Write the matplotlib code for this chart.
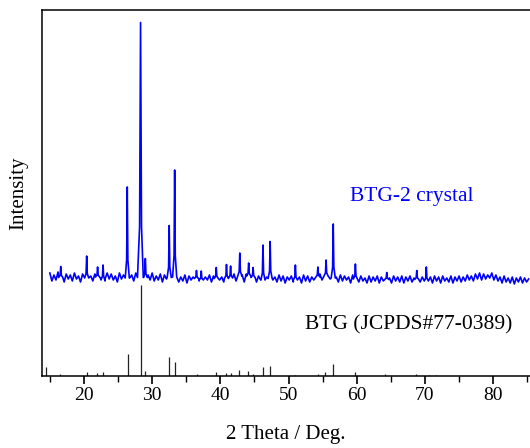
import numpy as np
import matplotlib
matplotlib.use("Agg")
import matplotlib.pyplot as plt
from matplotlib.ticker import MultipleLocator

plt.rcParams["font.family"] = ["Liberation Serif", "DejaVu Serif"]

# measured pattern (BTG-2 crystal): background level every 0.3 deg from 15.0
bg_level = [
    103, 95, 101, 96, 104, 97, 100, 94, 102, 97,
    101, 95, 103, 97, 100, 94, 102, 96, 103, 98,
    100, 95, 102, 97, 104, 96, 101, 95, 103, 97,
    102, 96, 100, 94, 103, 97, 101, 95, 104, 98,
    101, 95, 103, 96, 100, 97, 102, 95, 101, 96,
    103, 95, 100, 96, 102, 94, 101, 97, 103, 96,
    100, 95, 101, 94, 99, 95, 101, 93, 100, 96,
    99, 94, 101, 95, 100, 93, 99, 96, 101, 94,
    100, 95, 102, 96, 99, 94, 101, 95, 100, 96,
    102, 95, 100, 96, 101, 94, 102, 97, 100, 95,
    101, 94, 100, 96, 102, 95, 99, 94, 101, 96,
    99, 94, 101, 95, 100, 93, 99, 96, 100, 94,
    100, 95, 99, 93, 101, 95, 100, 94, 99, 96,
    100, 95, 102, 96, 100, 94, 101, 97, 100, 95,
    99, 94, 101, 95, 100, 96, 99, 93, 101, 95,
    99, 94, 100, 95, 98, 93, 100, 94, 99, 95,
    100, 93, 99, 95, 100, 94, 98, 93, 100, 95,
    99, 94, 100, 93, 99, 95, 100, 94, 98, 95,
    100, 94, 99, 95, 101, 94, 99, 93, 100, 95,
    99, 93, 100, 95, 98, 94, 100, 93, 99, 95,
    100, 94, 99, 95, 101, 96, 100, 95, 102, 97,
    103, 96, 102, 97, 101, 98, 103, 96, 101, 95,
    99, 93, 100, 94, 98, 93, 99, 92, 98, 94,
    99, 93, 98, 94, 97,
]
bg_start = 15.0
bg_step = 0.3

# peaks of the measured pattern: position (2 theta) and height above background
peak_pos = [16.6, 20.4, 22.0, 22.8, 26.35, 28.3, 29.0, 32.5, 33.3, 36.5,
            37.2, 39.4, 40.9, 41.5, 42.85, 44.15, 44.8, 46.25, 47.3, 51.0,
            54.3, 55.5, 56.55, 59.8, 64.4, 68.8, 70.2]
peak_h = [11, 22, 10, 14, 91, 255, 19, 52, 107, 8,
          9, 11, 14, 12, 23, 13, 10, 35, 37, 15,
          10, 16, 54, 15, 7, 9, 14]

# reference card JCPDS#77-0389
ref_pos = [14.41, 16.53, 20.40, 21.98, 22.82, 26.39, 28.30, 29.0, 32.48, 33.32,
           36.53, 39.41, 40.79, 41.49, 42.77, 44.11, 44.75, 46.19, 47.33, 50.94,
           54.26, 55.35, 56.49, 59.70, 64.16, 68.71, 70.59, 71.58]
ref_h = [8.7, 2, 4.3, 2.7, 4.3, 21.7, 91, 4.7, 18.7, 13.7,
         1.7, 3.7, 2.7, 3.3, 6, 4.7, 1.7, 9, 9.7, 1.3,
         2.3, 4, 12.3, 4.3, 1.7, 1.7, 1.3, 1.3]

# build the trace: background vertices plus spike-shaped peaks
bg_x = bg_start + bg_step * np.arange(len(bg_level))
bg_y = np.array(bg_level, dtype=float)
xs = []
ys = []
keep = np.ones(len(bg_x), dtype=bool)
for p, h in zip(peak_pos, peak_h):
    wb = 0.45 if h > 200 else 0.3
    wm = 0.14 if h > 200 else 0.09
    keep &= np.abs(bg_x - p) > wb
    b = np.median(bg_y[np.abs(bg_x - p) < 1.0])
    for dx, f in [(-wb, 0), (-wm, 0.2), (0, 1), (wm, 0.2), (wb, 0)]:
        xs.append(p + dx)
        ys.append(b + f * h)
xs = np.concatenate([bg_x[keep], xs])
ys = np.concatenate([bg_y[keep], ys])
order = np.argsort(xs)
xs = xs[order]
ys = ys[order]

fig = plt.figure(figsize=(5.3, 4.48), dpi=100)
ax = fig.add_axes([42 / 530, 72 / 448, 1 - 42 / 530, 366 / 448])

ax.plot(xs, ys, color="#0000ff", lw=1.2)
ax.vlines(ref_pos, 0, ref_h, color="#222222", lw=0.9)

ax.text(59.0, 179, "BTG-2 crystal", color="#0000ff", fontsize=15.5,
        ha="left", va="center")
ax.text(52.4, 51, "BTG (JCPDS#77-0389)", color="black", fontsize=15.5,
        ha="left", va="center")

ax.set_xlim(13.85, 85.4)
ax.set_ylim(0, 366)
ax.xaxis.set_major_locator(MultipleLocator(10))
ax.xaxis.set_minor_locator(MultipleLocator(5))
ax.set_yticks([])
ax.tick_params(axis="x", which="major", direction="out", length=6, width=1.2,
               labelsize=14, pad=2)
ax.tick_params(axis="x", which="minor", direction="out", length=4, width=1.0)
ax.spines["right"].set_visible(False)
for s in ["left", "top", "bottom"]:
    ax.spines[s].set_linewidth(1.1)

ax.set_xlabel("2 Theta / Deg.", fontsize=15, labelpad=15)
ax.set_ylabel("Intensity", fontsize=15, labelpad=10)

fig.savefig("out.png", dpi=100)
